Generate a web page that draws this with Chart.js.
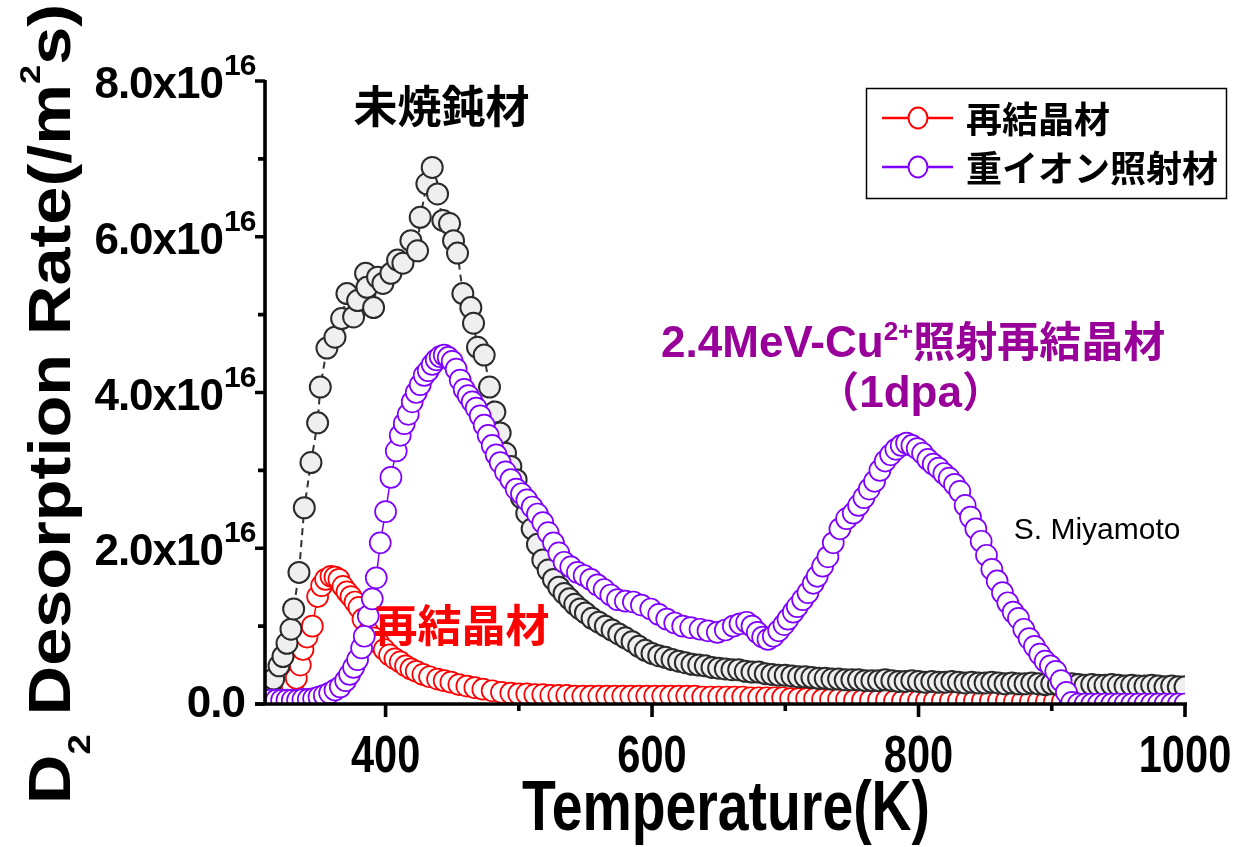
<!DOCTYPE html>
<html>
<head>
<meta charset="utf-8">
<title>D2 Desorption Rate</title>
<script src="https://cdn.jsdelivr.net/npm/chart.js"></script>
<style>
  html, body { margin: 0; padding: 0; background: #fff; }
</style>
</head>
<body>

<canvas id="tdsChart" width="1235" height="847"></canvas>

<script>
// temperatures (K) and desorption rates (x10^16 /m2s)

// 重イオン照射材 (purple)
const ionT = [
  310,314,318,322,326,330,334,338,342,346,
  350,354,358,362,366,370,373,376,379,382,
  384,387,390,393,396,400,404,408,411,414,
  417,420,423,426,429,432,435,438,441,444,
  447,450,453,456,459,462,465,468,471,474,
  477,480,483,486,490,494,498,502,506,510,
  514,518,522,526,530,534,539,544,549,554,
  559,564,569,574,580,586,592,599,605,611,
  617,623,629,636,642,649,655,661,666,671,
  675,679,683,687,691,695,699,702,706,709,
  713,717,721,724,728,732,736,741,746,751,
  755,759,763,767,771,775,779,783,787,791,
  795,799,803,807,811,815,819,823,827,831,
  835,839,843,847,851,855,859,863,867,871,
  875,879,883,887,891,895,899,903,907,911,
  915,920,925,930,935,940,945,950,955,960,
  965,970,975,980,985,990,995,1000
];
const ionRate = [
  0.05,0.05,0.05,0.05,0.05,0.05,0.05,0.06,0.06,0.07,
  0.09,0.11,0.14,0.18,0.22,0.30,0.38,0.47,0.57,0.72,
  0.87,1.13,1.35,1.62,2.07,2.47,2.91,3.25,3.45,3.60,
  3.72,3.88,4.00,4.10,4.22,4.28,4.36,4.42,4.46,4.48,
  4.45,4.40,4.30,4.16,4.04,3.96,3.88,3.80,3.70,3.58,
  3.45,3.32,3.20,3.10,2.98,2.88,2.76,2.70,2.62,2.53,
  2.44,2.33,2.20,2.07,1.94,1.82,1.76,1.69,1.65,1.60,
  1.53,1.47,1.40,1.34,1.32,1.31,1.27,1.22,1.15,1.09,
  1.04,1.00,0.98,0.96,0.94,0.92,0.95,1.00,1.03,1.05,
  1.00,0.92,0.86,0.83,0.87,0.94,1.02,1.09,1.18,1.25,
  1.34,1.43,1.55,1.64,1.77,1.89,2.07,2.25,2.38,2.45,
  2.55,2.65,2.76,2.86,3.00,3.12,3.20,3.27,3.32,3.35,
  3.32,3.28,3.22,3.14,3.08,3.03,2.96,2.90,2.82,2.73,
  2.55,2.40,2.25,2.09,1.91,1.73,1.58,1.43,1.30,1.18,
  1.10,0.96,0.84,0.74,0.64,0.55,0.49,0.42,0.30,0.15,
  0.02,0,0,0,0,0,0,0,0,0,
  0,0,0,0,0,0,0,0
];

// 未焼鈍材 (grey)
const asRecT = [
  310,313,316,320,323,326,329,331,335,339,
  344,349,351,356,362,367,371,376,379,385,
  386,391,394,398,404,409,413,419,424,426,
  431,435,439,443,448,451,454,458,464,466,
  469,474,478,482,486,490,494,498,502,506,
  510,514,518,522,526,530,534,538,542,546,
  550,555,560,565,570,575,580,585,590,595,
  600,605,610,615,620,625,630,635,640,645,
  650,655,660,665,670,675,680,685,690,695,
  700,705,710,715,720,725,730,735,740,745,
  750,755,760,765,770,775,780,785,790,795,
  800,805,810,815,820,825,830,835,840,845,
  850,855,860,865,870,875,880,885,890,895,
  900,905,910,915,920,925,930,935,940,945,
  950,955,960,965,970,975,980,985,990,995,
  1000
];
const asRecRate = [
  0.08,0.18,0.32,0.49,0.61,0.78,0.96,1.22,1.69,2.52,
  3.10,3.61,4.07,4.57,4.71,4.95,5.27,4.97,5.18,5.53,
  5.35,5.09,5.48,5.40,5.53,5.70,5.66,5.95,5.82,6.25,
  6.68,6.89,6.55,6.21,6.17,5.95,5.79,5.27,5.09,4.89,
  4.58,4.48,4.07,3.75,3.48,3.22,3.05,2.88,2.65,2.45,
  2.25,2.05,1.85,1.72,1.60,1.50,1.42,1.35,1.28,1.22,
  1.17,1.10,1.05,1.00,0.95,0.90,0.85,0.80,0.74,0.69,
  0.65,0.62,0.60,0.57,0.55,0.53,0.51,0.50,0.49,0.47,
  0.46,0.45,0.44,0.44,0.42,0.41,0.41,0.39,0.38,0.37,
  0.37,0.36,0.35,0.35,0.34,0.33,0.33,0.32,0.32,0.31,
  0.31,0.31,0.30,0.30,0.30,0.31,0.30,0.29,0.29,0.30,
  0.29,0.28,0.29,0.28,0.28,0.29,0.28,0.27,0.28,0.27,
  0.27,0.28,0.27,0.26,0.27,0.26,0.26,0.27,0.26,0.25,
  0.26,0.25,0.25,0.26,0.25,0.24,0.25,0.24,0.24,0.25,
  0.24,0.23,0.24,0.23,0.23,0.24,0.23,0.22,0.23,0.22,
  0.22
];

// 再結晶材 (red)
const recT = [
  330,333,336,338,341,345,349,352,355,359,
  362,365,368,371,374,377,380,383,387,391,
  395,399,403,407,411,415,419,423,428,433,
  439,444,449,455,461,467,473,480,487,494,
  500,506,512,518,524,530,536,542,548,554,
  560,566,572,578,584,590,596,602,608,614,
  620,626,632,638,644,650,656,662,668,674,
  680,686,692,698,704,710,716,722,728,734,
  740,746,752,758,764,770,776,782,788,794,
  800,806,812,818,824,830,836,842,848,854,
  860,866,872,878,884,890,896,902,908,914,
  920,926,932,938,944,950,956,962,968,974,
  980,986,992,998
];
const recRate = [
  0.22,0.33,0.50,0.70,0.86,1.00,1.38,1.52,1.60,1.64,
  1.63,1.60,1.51,1.44,1.38,1.31,1.24,1.09,0.92,0.85,
  0.78,0.70,0.63,0.58,0.54,0.49,0.45,0.42,0.38,0.35,
  0.32,0.30,0.28,0.25,0.23,0.21,0.19,0.17,0.15,0.14,
  0.13,0.13,0.12,0.12,0.11,0.11,0.11,0.10,0.10,0.10,
  0.10,0.10,0.10,0.10,0.10,0.10,0.10,0.10,0.10,0.10,
  0.10,0.10,0.10,0.09,0.09,0.09,0.09,0.09,0.09,0.08,
  0.08,0.08,0.08,0.08,0.07,0.07,0.07,0.07,0.06,0.06,
  0.06,0.06,0.05,0.05,0.05,0.05,0.05,0.04,0.04,0.04,
  0.04,0.04,0.04,0.04,0.04,0.04,0.04,0.04,0.04,0.04,
  0.04,0.04,0.03,0.03,0.03,0.03,0.03,0.03,0.03,0.03,
  0.03,0.03,0.03,0.03,0.03,0.03,0.03,0.03,0.03,0.03,
  0.03,0.03,0.03,0.03
];

// axis ticks
const xMajorTicks = [400, 600, 800, 1000];
const xMinorTicks = [500, 700, 900];
const yMajorTicks = [0, 2, 4, 6, 8];
const yMinorTicks = [1, 3, 5, 7];
const yTickLabels = ['0.0', '2.0x10', '4.0x10', '6.0x10', '8.0x10'];
const yTickExp = ['', '16', '16', '16', '16'];

const LAT = '"Liberation Sans", Arial, sans-serif';
const CJK = '"Noto Sans CJK JP", "Noto Sans CJK SC", sans-serif';
const PURPLE_TXT = '#990099';

function toXY(xs, ys) {
    return xs.map((x, i) => ({ x: x, y: ys[i] }));
}

// draws a run of text pieces [text, font, dy] on one baseline
function drawRun(ctx, parts, x, y, align) {
    let w = 0;
    parts.forEach(p => { ctx.font = p[1]; w += ctx.measureText(p[0]).width; });
    let cx = align === 'center' ? x - w / 2 : (align === 'right' ? x - w : x);
    ctx.textAlign = 'left';
    parts.forEach(p => {
        ctx.font = p[1];
        ctx.fillText(p[0], cx, y + (p[2] || 0));
        cx += ctx.measureText(p[0]).width;
    });
    return w;
}

function runWidth(ctx, parts) {
    let w = 0;
    parts.forEach(p => { ctx.font = p[1]; w += ctx.measureText(p[0]).width; });
    return w;
}

const axesPlugin = {
    id: 'axesPlugin',
    afterDatasetsDraw(chart) {
        const ctx = chart.ctx, ca = chart.chartArea;
        const xs = chart.scales.x, ys = chart.scales.y;
        ctx.save();
        ctx.strokeStyle = '#000';
        ctx.lineWidth = 3.6;
        ctx.beginPath();
        ctx.moveTo(ca.left - 10, ca.bottom);
        ctx.lineTo(ca.right + 2, ca.bottom);
        ctx.moveTo(ca.left, ca.bottom + 1.8);
        ctx.lineTo(ca.left, ca.top - 1);
        ctx.stroke();

        ctx.beginPath();
        xMajorTicks.forEach(v => {
            const px = xs.getPixelForValue(v);
            ctx.moveTo(px, ca.bottom); ctx.lineTo(px, ca.bottom + 13);
        });
        xMinorTicks.forEach(v => {
            const px = xs.getPixelForValue(v);
            ctx.moveTo(px, ca.bottom); ctx.lineTo(px, ca.bottom + 7);
        });
        yMajorTicks.forEach(v => {
            const py = ys.getPixelForValue(v);
            ctx.moveTo(ca.left, py); ctx.lineTo(ca.left - 10, py);
        });
        yMinorTicks.forEach(v => {
            const py = ys.getPixelForValue(v);
            ctx.moveTo(ca.left, py); ctx.lineTo(ca.left - 7, py);
        });
        ctx.stroke();
        ctx.restore();
    }
};

const textPlugin = {
    id: 'textPlugin',
    afterDraw(chart) {
        const ctx = chart.ctx, ca = chart.chartArea;
        const xs = chart.scales.x, ys = chart.scales.y;
        ctx.save();
        ctx.fillStyle = '#000';
        ctx.textBaseline = 'alphabetic';

        // x tick labels (condensed bold)
        xMajorTicks.forEach(v => {
            const px = xs.getPixelForValue(v);
            ctx.save();
            ctx.translate(px, ca.bottom + 68);
            ctx.scale(0.8, 1);
            ctx.font = 'bold 52px ' + LAT;
            ctx.textAlign = 'center';
            ctx.fillText(String(v), 0, 0);
            ctx.restore();
        });

        // y tick labels with exponent
        yMajorTicks.forEach((v, i) => {
            const py = ys.getPixelForValue(v);
            ctx.save();
            if ('letterSpacing' in ctx) ctx.letterSpacing = '-1px';
            ctx.font = 'bold 44px ' + LAT;
            ctx.textAlign = 'left';
            if (yTickExp[i]) {
                const w = ctx.measureText(yTickLabels[i]).width;
                ctx.fillText(yTickLabels[i], 223 - w, py + 17);
                ctx.font = 'bold 30px ' + LAT;
                if ('letterSpacing' in ctx) ctx.letterSpacing = '-1px';
                ctx.fillText(yTickExp[i], 224, py - 6);
            } else {
                const w = ctx.measureText(yTickLabels[i]).width;
                ctx.fillText(yTickLabels[i], 245 - w, py + 13);
            }
            ctx.restore();
        });

        // x title
        const xTitle = [['Temperature(K)', 'bold 70px ' + LAT]];
        ctx.save();
        ctx.translate(726, 830);
        ctx.scale(408 / runWidth(ctx, xTitle), 1);
        drawRun(ctx, xTitle, 0, 0, 'center');
        ctx.restore();

        // y title, rotated
        const yTitle = [
            ['D', 'bold 60px ' + LAT],
            ['2', 'bold 32px ' + LAT, 20],
            [' Desorption Rate(/m', 'bold 60px ' + LAT],
            ['2', 'bold 30px ' + LAT, -30],
            ['s)', 'bold 60px ' + LAT]
        ];
        ctx.save();
        ctx.translate(70, 404);
        ctx.rotate(-Math.PI / 2);
        ctx.scale(800 / runWidth(ctx, yTitle), 1);
        drawRun(ctx, yTitle, 0, 0, 'center');
        ctx.restore();

        // annotations inside the plot
        ctx.textBaseline = 'middle';
        ctx.textAlign = 'center';
        ctx.fillStyle = '#000';
        ctx.font = 'bold 44px ' + CJK;
        ctx.fillText('未焼鈍材', xs.getPixelForValue(442), ys.getPixelForValue(7.67));
        ctx.fillStyle = '#ff0000';
        ctx.fillText('再結晶材', xs.getPixelForValue(457), ys.getPixelForValue(1.01));

        ctx.fillStyle = '#000';
        ctx.font = '30px ' + LAT;
        ctx.fillText('S. Miyamoto', xs.getPixelForValue(934), ys.getPixelForValue(2.23));

        ctx.textBaseline = 'alphabetic';
        ctx.fillStyle = PURPLE_TXT;
        drawRun(ctx, [
            ['2.4MeV-Cu', 'bold 44px ' + LAT],
            ['2+', 'bold 26px ' + LAT, -17],
            ['照射再結晶材', 'bold 42px ' + CJK]
        ], xs.getPixelForValue(796), ys.getPixelForValue(4.45), 'center');
        drawRun(ctx, [
            ['（', 'bold 42px ' + CJK],
            ['1dpa', 'bold 44px ' + LAT],
            ['）', 'bold 42px ' + CJK]
        ], xs.getPixelForValue(794), ys.getPixelForValue(3.82), 'center');

        // legend box (only two of the series are listed)
        const items = chart.data.datasets
            .filter(d => d.legendRow !== undefined)
            .sort((a, b) => a.legendRow - b.legendRow);
        const bx = 866, by = 88, bw = 360, bh = 110;
        ctx.fillStyle = '#fff';
        ctx.fillRect(bx, by, bw, bh);
        ctx.strokeStyle = '#000';
        ctx.lineWidth = 1.5;
        ctx.strokeRect(bx + 0.5, by + 0.5, bw, bh);
        items.forEach((d, i) => {
            const cy = by + 30 + i * 49;
            ctx.strokeStyle = d.borderColor;
            ctx.lineWidth = 2.5;
            ctx.beginPath();
            ctx.moveTo(bx + 16, cy); ctx.lineTo(bx + 42, cy);
            ctx.moveTo(bx + 62, cy); ctx.lineTo(bx + 87, cy);
            ctx.stroke();
            ctx.fillStyle = '#fff';
            ctx.lineWidth = 2;
            ctx.beginPath();
            ctx.ellipse(bx + 52, cy, 9.5, 10.5, 0, 0, Math.PI * 2);
            ctx.fill();
            ctx.stroke();
            ctx.fillStyle = '#000';
            ctx.font = 'bold 36px ' + CJK;
            ctx.textAlign = 'left';
            ctx.textBaseline = 'middle';
            ctx.fillText(d.label, bx + 100, cy + 1);
        });
        ctx.restore();
    }
};

document.addEventListener('DOMContentLoaded', function() {
    const ctx = document.getElementById('tdsChart').getContext('2d');

    new Chart(ctx, {
        type: 'scatter',
        data: {
            datasets: [{
                label: '重イオン照射材',
                legendRow: 1,
                data: toXY(ionT, ionRate),
                showLine: true,
                borderColor: '#7f00ff',
                borderWidth: 1.5,
                pointRadius: 10.5,
                pointBorderWidth: 1.7,
                pointBorderColor: '#7f00ff',
                pointBackgroundColor: '#ffffff',
                clip: 0,
                order: 0
            }, {
                label: '未焼鈍材',
                data: toXY(asRecT, asRecRate),
                showLine: true,
                borderColor: '#333333',
                borderWidth: 2,
                borderDash: [7, 5],
                pointRadius: 10.5,
                pointBorderWidth: 2,
                pointBorderColor: '#2b2b2b',
                pointBackgroundColor: '#efefef',
                clip: 0,
                order: 1
            }, {
                label: '再結晶材',
                legendRow: 0,
                data: toXY(recT, recRate),
                showLine: true,
                borderColor: '#ff0000',
                borderWidth: 1.5,
                pointRadius: 10.5,
                pointBorderWidth: 1.7,
                pointBorderColor: '#ff0000',
                pointBackgroundColor: '#ffffff',
                clip: 0,
                order: 2
            }]
        },
        options: {
            responsive: false,
            animation: false,
            devicePixelRatio: 1,
            layout: { padding: { left: 265, top: 81, right: 50, bottom: 143 } },
            plugins: {
                legend: { display: false },
                tooltip: { enabled: false }
            },
            scales: {
                x: {
                    type: 'linear',
                    min: 309.5,
                    max: 1000,
                    afterFit: s => { s.height = 0; },
                    ticks: { display: false, stepSize: 100 },
                    grid: {
                        drawTicks: false,
                        lineWidth: 1,
                        color: c => (c.tick && c.tick.value % 100 === 0 && c.tick.value > 310 && c.tick.value < 1000)
                            ? '#808080' : 'rgba(0,0,0,0)'
                    },
                    border: { display: false }
                },
                y: {
                    min: 0,
                    max: 8,
                    afterFit: s => { s.width = 0; },
                    ticks: { display: false },
                    grid: { display: false },
                    border: { display: false }
                }
            }
        },
        plugins: [axesPlugin, textPlugin]
    });
});
</script>

</body>
</html>
